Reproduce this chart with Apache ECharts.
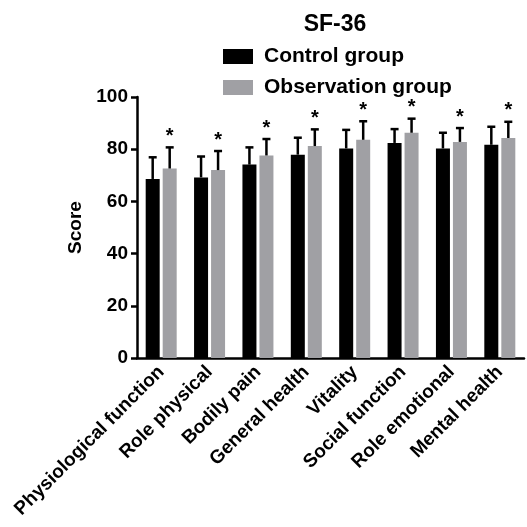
<!DOCTYPE html>
<html>
<head>
<meta charset="utf-8">
<script src="https://cdn.jsdelivr.net/npm/echarts@6/dist/echarts.min.js"></script>
<style>html,body{margin:0;padding:0;background:#fff}#c{width:527px;height:527px}</style>
</head>
<body>
<div id="c"></div>
<script>
var categories = ['Physiological function','Role physical','Bodily pain','General health','Vitality','Social function','Role emotional','Mental health'];
var controlMean = [68.6, 69.2, 74.1, 77.9, 80.3, 82.4, 80.3, 81.7];
var controlSD   = [8.3, 8.0, 6.6, 6.5, 7.1, 5.3, 6.0, 6.9];
var obsMean     = [72.6, 72.0, 77.6, 81.2, 83.6, 86.3, 82.8, 84.3];
var obsSD       = [8.1, 7.3, 6.3, 6.4, 7.1, 5.4, 5.3, 6.2];
var yTicks = [0, 20, 40, 60, 80, 100];

var FONT = '"Liberation Sans", Arial, sans-serif';
var BAR_W = 14, GAP = 3;
var half = (BAR_W + GAP) / 2;

function errSeries(name, means, sds, dir, star) {
  var data = means.map(function (m, i) { return [i, m, m + sds[i]]; });
  return {
    type: 'custom', name: name + ' err', z: 5, silent: true,
    data: data,
    encode: { x: 0, y: [1, 2] },
    renderItem: function (params, api) {
      var i = api.value(0);
      var p0 = api.coord([i, api.value(1)]);
      var p1 = api.coord([i, api.value(2)]);
      var x = p0[0] + dir * half;
      var kids = [
        { type: 'line', shape: { x1: x, y1: p0[1], x2: x, y2: p1[1] }, style: { stroke: '#000', lineWidth: 2.5 } },
        { type: 'line', shape: { x1: x - 4, y1: p1[1], x2: x + 4, y2: p1[1] }, style: { stroke: '#000', lineWidth: 2.5 } }
      ];
      if (star) {
        kids.push({ type: 'text', style: { text: '*', x: x, y: p1[1] - 1, align: 'center', verticalAlign: 'bottom', font: 'bold 20px ' + FONT, fill: '#000' } });
      }
      return { type: 'group', children: kids };
    }
  };
}

var chart = echarts.init(document.getElementById('c'), null, { renderer: 'canvas' });
chart.setOption({
  animation: false,
  backgroundColor: '#fff',
  title: {
    text: 'SF-36', left: 330, top: 8, textAlign: 'center',
    textStyle: { fontFamily: FONT, fontWeight: 'bold', fontSize: 23, color: '#000' }
  },
  legend: {
    orient: 'vertical', left: 218, top: 41, itemWidth: 30, itemHeight: 15, itemGap: 10,
    data: ['Control group', 'Observation group'],
    textStyle: { fontFamily: FONT, fontWeight: 'bold', fontSize: 21, color: '#000', padding: [0, 0, 0, 6] },
    icon: 'rect'
  },
  grid: { left: 137, right: 3, top: 97, bottom: 169, containLabel: false },
  xAxis: {
    type: 'category', data: categories,
    axisLine: { lineStyle: { color: '#000', width: 2.5 } },
    axisTick: { alignWithLabel: true, length: 6, lineStyle: { color: '#000', width: 2.5 } },
    axisLabel: { rotate: 45, interval: 0, margin: 11, fontFamily: FONT, fontWeight: 'bold', fontSize: 19, color: '#000' }
  },
  yAxis: {
    type: 'value', min: yTicks[0], max: yTicks[yTicks.length - 1], interval: 20,
    name: 'Score', nameLocation: 'middle', nameGap: 52,
    nameTextStyle: { fontFamily: FONT, fontWeight: 'bold', fontSize: 19, color: '#000' },
    axisLine: { show: true, lineStyle: { color: '#000', width: 2.5 } },
    axisTick: { show: true, length: 6, lineStyle: { color: '#000', width: 2.5 } },
    splitLine: { show: false },
    axisLabel: { margin: 9, fontFamily: FONT, fontWeight: 'bold', fontSize: 19, color: '#000' }
  },
  series: [
    { type: 'bar', name: 'Control group', data: controlMean, barWidth: BAR_W, barGap: (GAP / BAR_W * 100) + '%', itemStyle: { color: '#000' } },
    { type: 'bar', name: 'Observation group', data: obsMean, barWidth: BAR_W, itemStyle: { color: '#a0a0a4' } },
    errSeries('Control group', controlMean, controlSD, -1, false),
    errSeries('Observation group', obsMean, obsSD, 1, true)
  ]
});
</script>
</body>
</html>
